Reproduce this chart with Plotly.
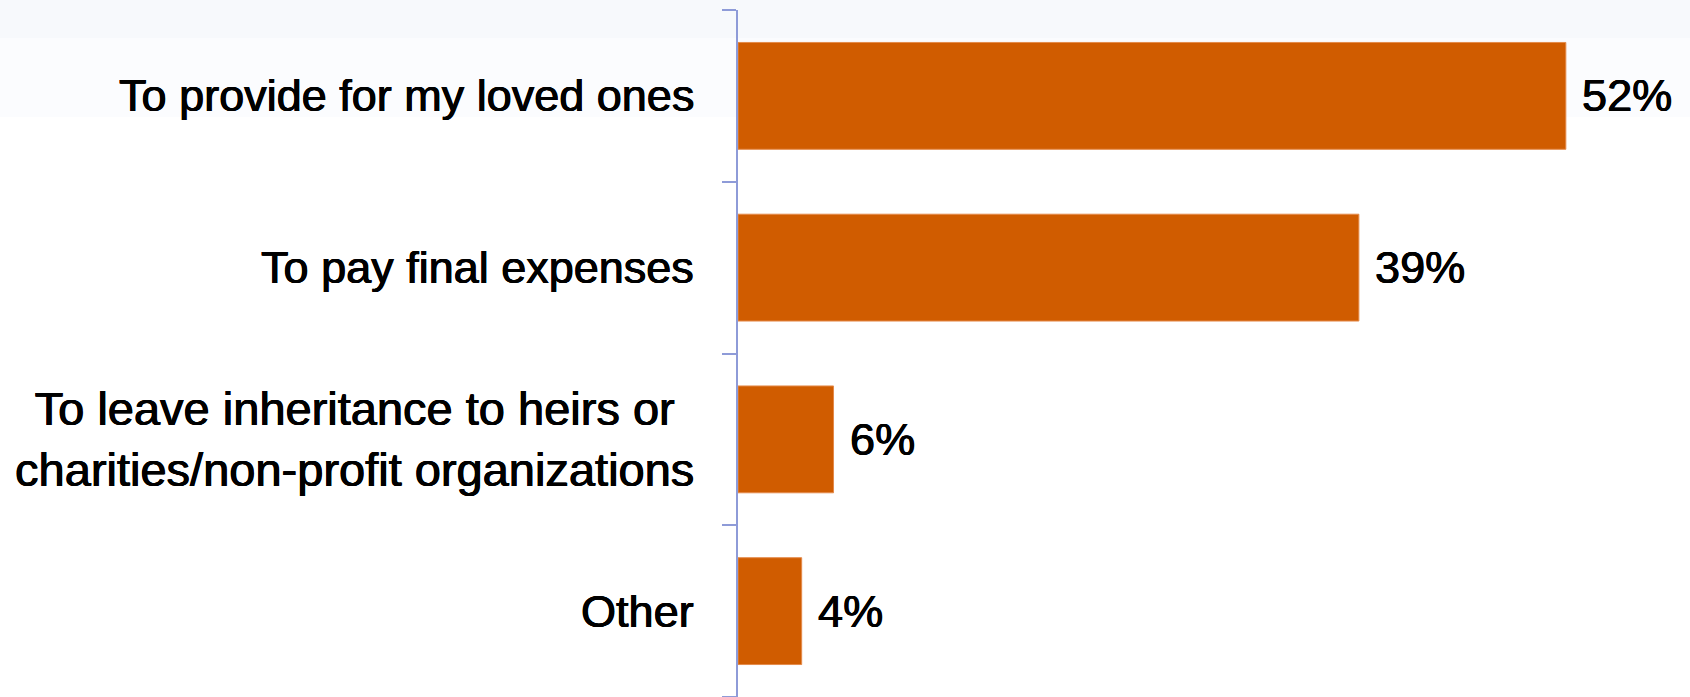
import plotly.graph_objects as go

categories = [
    "To provide for my loved ones",
    "To pay final expenses",
    "To leave inheritance to heirs or<br>charities/non-profit organizations",
    "Other",
]
values = [52, 39, 6, 4]
value_labels = ["52%", "39%", "6%", "4%"]
label_sizes = [45, 45, 47, 45]

W, H = 1690, 697
ML, MR, MT, MB = 738, 0, 10, 0
FONT = "Liberation Sans, Arial, Helvetica, sans-serif"
BAR_COLOR = "#D05C00"
AXIS_COLOR = "#8E9BD8"
THICK = "0.6px 0 0 #000, -0.4px 0 0 #000, 0 0.3px 0 #000"

fig = go.Figure()
fig.add_trace(go.Bar(
    x=values,
    y=categories,
    orientation="h",
    marker=dict(color=BAR_COLOR, line=dict(color="#E48A4A", width=1)),
    hoverinfo="skip",
))

pw = W - ML - MR
ph = H - MT - MB
x_left = -ML / pw
y_top = 1 + MT / ph

# subtle top background bands
fig.add_shape(type="rect", xref="paper", yref="paper", layer="below",
              x0=x_left, x1=1, y0=1 - 28 / ph, y1=y_top,
              fillcolor="#F7F9FC", line=dict(width=0))
fig.add_shape(type="rect", xref="paper", yref="paper", layer="below",
              x0=x_left, x1=1, y0=1 - 107 / ph, y1=1 - 28 / ph,
              fillcolor="#FBFCFE", line=dict(width=0))

for cat, v, lab, sz in zip(categories, values, value_labels, label_sizes):
    fig.add_annotation(x=v, y=cat, xref="x", yref="y", text=lab,
                       showarrow=False, xanchor="left", xshift=14,
                       font=dict(family=FONT, size=45, color="#000000",
                                 shadow=THICK))
    fig.add_annotation(x=0, y=cat, xref="paper", yref="y", text=cat,
                       showarrow=False, xanchor="right", align="center",
                       xshift=-42,
                       font=dict(family=FONT, size=sz, color="#000000",
                                 shadow=THICK))

fig.update_layout(
    width=W, height=H,
    margin=dict(l=ML, r=MR, t=MT, b=MB, pad=0),
    paper_bgcolor="#FFFFFF",
    plot_bgcolor="rgba(0,0,0,0)",
    showlegend=False,
    bargap=0.378,
    xaxis=dict(range=[0, 59.8], visible=False, fixedrange=True),
    yaxis=dict(
        categoryorder="array",
        categoryarray=categories[::-1],
        showticklabels=False,
        showline=True, linecolor=AXIS_COLOR, linewidth=2,
        ticks="outside", tickson="boundaries", ticklen=14,
        tickcolor=AXIS_COLOR, tickwidth=2,
        showgrid=False, zeroline=False, fixedrange=True,
    ),
)

fig.write_html("out.html")
